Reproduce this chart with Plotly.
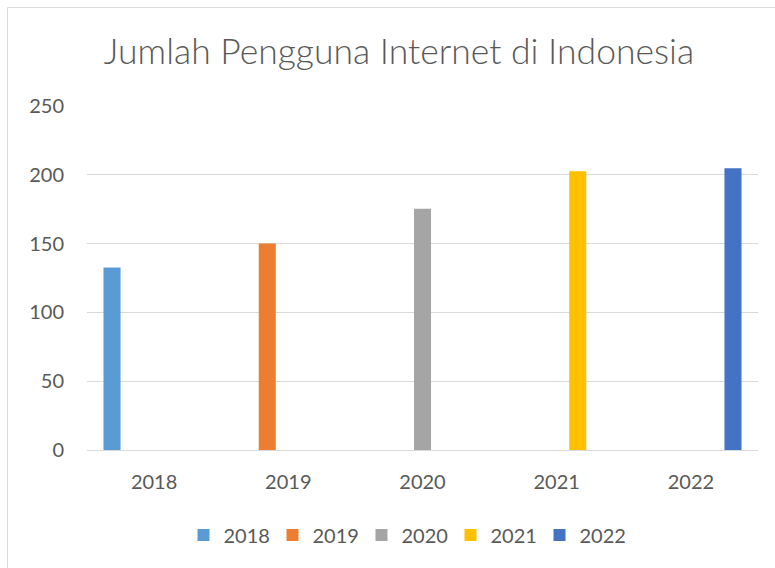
import plotly.graph_objects as go

categories = ["2018", "2019", "2020", "2021", "2022"]
values = [132.7, 150.0, 175.4, 202.6, 204.7]
series_names = ["2018", "2019", "2020", "2021", "2022"]
colors = ["#5B9BD5", "#ED7D31", "#A5A5A5", "#FFC000", "#4472C4"]
y_ticks = [0, 50, 100, 150, 200, 250]

FONT = "Lato"
TXT = "#595959"

fig = go.Figure()
for i, name in enumerate(series_names):
    yv = [values[j] if j == i else None for j in range(len(categories))]
    fig.add_trace(go.Bar(x=categories, y=yv, name=name, marker_color=colors[i],
                         marker_line_width=0))

W, H = 775, 568
L, R, T, B = 87, 17, 106, 118
pw = W - L - R
ph = H - T - B

def px_x(p):
    return (p - L) / pw

def px_y(p):
    return (H - B - p) / ph

fig.add_shape(type="rect", xref="paper", yref="paper",
              x0=px_x(7.5), x1=px_x(790), y0=px_y(7.5), y1=px_y(600),
              line=dict(color="#D9D9D9", width=1), fillcolor="rgba(0,0,0,0)", layer="below")

fig.update_layout(
    width=W, height=H,
    margin=dict(l=L, r=R, t=T, b=B),
    paper_bgcolor="white", plot_bgcolor="white",
    barmode="group", bargap=0.216, bargroupgap=0.19,
    title=dict(text="Jumlah Pengguna Internet di Indonesia", x=399 / W, xanchor="center",
               y=1 - 52 / H, yanchor="middle", yref="container",
               font=dict(family=FONT, size=35.5, color=TXT, weight=300)),
    font=dict(family=FONT, size=20, color=TXT),
    showlegend=True,
    legend=dict(orientation="h", x=px_x(406), xanchor="center", y=px_y(535), yanchor="middle",
                font=dict(family=FONT, size=20, color=TXT), itemwidth=30,
                entrywidth=44, entrywidthmode="pixels",
                traceorder="normal"),
    xaxis=dict(type="category", showgrid=False, showline=True, linecolor="#D9D9D9",
               linewidth=1, ticks="", tickfont=dict(size=20, color=TXT),
               ticklabelstandoff=14),
    yaxis=dict(range=[0, 250], tickvals=y_ticks, showgrid=True, gridcolor="#D9D9D9",
               gridwidth=1, zeroline=False, showline=False, ticks="",
               tickfont=dict(size=20, color=TXT), ticklabelstandoff=22),
)

fig.write_html("out.html", config={"displayModeBar": False},
               post_script="document.body.style.margin='0';document.body.style.overflow='hidden';")
